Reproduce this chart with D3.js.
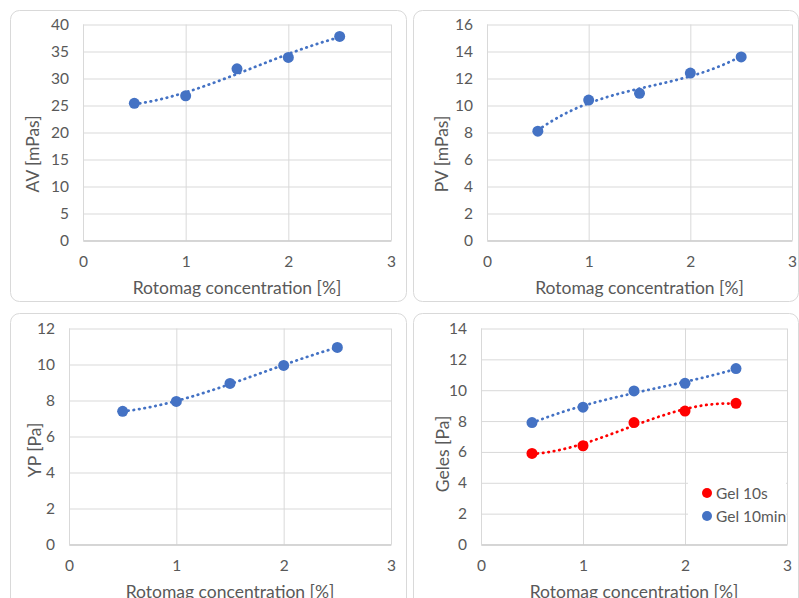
<!DOCTYPE html>
<html>
<head>
<meta charset="utf-8">
<script src="https://cdn.jsdelivr.net/npm/d3@7"></script>
<style>
  body { margin: 0; background: #fff; }
  text { font-family: Lato, "Open Sans", sans-serif; fill: #595959; }
</style>
</head>
<body>
<div id="chart"></div>
<script>
'use strict';

// data
const concentration = [0.5, 1, 1.5, 2, 2.5];
const av = [25.4, 26.8, 31.8, 33.9, 37.8];
const pv = [8.1, 10.4, 10.9, 12.4, 13.6];
const yp = [7.4, 7.95, 8.95, 9.95, 10.95];
const gel10s = [5.9, 6.4, 7.9, 8.65, 9.15];
const gel10min = [7.9, 8.9, 9.95, 10.45, 11.4];
const xTicks = [0, 1, 2, 3];
const xTitle = "Rotomag concentration [%]";

const blue = "#4472C4",
    red = "#FF0000";

const width = 799,
    height = 598;

// one entry per small chart
const panels = [
    {frame: [10, 10, 396, 291], plot: {left: 83, right: 391, top: 24.5, bottom: 240.5},
     yMax: 40, yStep: 5, yTitle: "AV [mPas]", yTitlePos: [33, 154],
     series: [{name: "AV", values: av, color: blue}]},
    {frame: [413, 10, 385, 291], plot: {left: 487, right: 792, top: 24.5, bottom: 240.5},
     yMax: 16, yStep: 2, yTitle: "PV [mPas]", yTitlePos: [442, 154],
     series: [{name: "PV", values: pv, color: blue}]},
    {frame: [10, 313, 396, 300], plot: {left: 69, right: 391, top: 328.5, bottom: 544.5},
     yMax: 12, yStep: 2, yTitle: "YP [Pa]", yTitlePos: [35, 450],
     series: [{name: "YP", values: yp, color: blue}]},
    {frame: [413, 313, 385, 300], plot: {left: 481, right: 787, top: 328.5, bottom: 544.5},
     yMax: 14, yStep: 2, yTitle: "Geles [Pa]", yTitlePos: [443, 454],
     series: [{name: "Gel 10s", values: gel10s, color: red},
              {name: "Gel 10min", values: gel10min, color: blue}],
     legend: true}
];

// least squares polynomial (Excel style trendline)
function polyFit(xs, ys, order) {
    const n = order + 1;
    const A = [];
    for (let i = 0; i < n; i++) {
        A.push([]);
        for (let j = 0; j < n; j++) A[i].push(d3.sum(xs, x => Math.pow(x, i + j)));
        A[i].push(d3.sum(xs, (x, k) => ys[k] * Math.pow(x, i)));
    }
    for (let c = 0; c < n; c++) {
        let p = c;
        for (let r = c + 1; r < n; r++) if (Math.abs(A[r][c]) > Math.abs(A[p][c])) p = r;
        [A[c], A[p]] = [A[p], A[c]];
        for (let r = 0; r < n; r++) {
            if (r === c) continue;
            const f = A[r][c] / A[c][c];
            for (let k = c; k <= n; k++) A[r][k] -= f * A[c][k];
        }
    }
    const coef = A.map((row, i) => row[n] / row[i]);
    return x => d3.sum(coef, (a, i) => a * Math.pow(x, i));
}

const svg = d3.select("#chart")
    .append("svg")
    .attr("width", width)
    .attr("height", height);

panels.forEach(p => {
    const g = svg.append("g");

    g.append("rect")
        .attr("x", p.frame[0] + 0.5)
        .attr("y", p.frame[1] + 0.5)
        .attr("width", p.frame[2])
        .attr("height", p.frame[3])
        .attr("rx", 9)
        .attr("fill", "#fff")
        .attr("stroke", "#d9d9d9");

    const xScale = d3.scaleLinear()
        .domain([0, 3])
        .range([p.plot.left, p.plot.right]);
    const yScale = d3.scaleLinear()
        .domain([0, p.yMax])
        .range([p.plot.bottom, p.plot.top]);
    const yTicks = d3.range(0, p.yMax + 0.001, p.yStep);

    // gridlines
    g.append("g")
        .attr("transform", `translate(0, ${p.plot.bottom})`)
        .call(d3.axisBottom(xScale).tickValues(xTicks).tickSize(-(p.plot.bottom - p.plot.top)).tickFormat(""))
        .call(a => a.select(".domain").remove())
        .call(a => a.selectAll("line").attr("stroke", "#d9d9d9"));
    g.append("g")
        .attr("transform", `translate(${p.plot.left}, 0)`)
        .call(d3.axisLeft(yScale).tickValues(yTicks).tickSize(-(p.plot.right - p.plot.left)).tickFormat(""))
        .call(a => a.select(".domain").remove())
        .call(a => a.selectAll("line").attr("stroke", "#d9d9d9"));

    // tick labels
    g.append("g")
        .attr("transform", `translate(0, ${p.plot.bottom})`)
        .call(d3.axisBottom(xScale).tickValues(xTicks).tickFormat(d3.format("d")).tickSize(0).tickPadding(15))
        .call(a => a.select(".domain").attr("stroke", "#bfbfbf"))
        .call(a => a.selectAll("text").attr("font-size", 15.5).attr("font-family", null));
    g.append("g")
        .attr("transform", `translate(${p.plot.left}, 0)`)
        .call(d3.axisLeft(yScale).tickValues(yTicks).tickSize(0).tickPadding(14))
        .call(a => a.select(".domain").remove())
        .call(a => a.selectAll("text").attr("font-size", 15.5).attr("font-family", null));

    g.append("text")
        .attr("x", (p.plot.left + p.plot.right) / 2)
        .attr("y", p.plot.bottom + 53)
        .attr("text-anchor", "middle")
        .attr("font-size", 17.5)
        .text(xTitle);

    g.append("text")
        .attr("transform", `translate(${p.yTitlePos[0] + 6}, ${p.yTitlePos[1]}) rotate(-90)`)
        .attr("text-anchor", "middle")
        .attr("font-size", 17.5)
        .text(p.yTitle);

    p.series.forEach(s => {
        const fit = polyFit(concentration, s.values, 3);
        const xs = d3.range(0.5, 2.5001, 0.02);
        const line = d3.line()
            .x(d => xScale(d))
            .y(d => yScale(fit(d)));
        g.append("path")
            .datum(xs)
            .attr("d", line)
            .attr("fill", "none")
            .attr("stroke", s.color)
            .attr("stroke-width", 2.75)
            .attr("stroke-linecap", "round")
            .attr("stroke-dasharray", "0.5 5");

        g.selectAll(null)
            .data(s.values)
            .join("circle")
            .attr("cx", (d, i) => xScale(concentration[i]))
            .attr("cy", d => yScale(d))
            .attr("r", 5.5)
            .attr("fill", s.color);
    });

    if (p.legend) {
        const lg = g.append("g");
        lg.append("rect")
            .attr("x", 688)
            .attr("y", 480)
            .attr("width", 98)
            .attr("height", 47)
            .attr("fill", "#fff");
        p.series.forEach((s, i) => {
            lg.append("circle")
                .attr("cx", 707)
                .attr("cy", 493 + i * 23)
                .attr("r", 5)
                .attr("fill", s.color);
            lg.append("text")
                .attr("x", 716)
                .attr("y", 493 + i * 23 + 5.5)
                .attr("font-size", 15.5)
                .text(s.name);
        });
    }
});
</script>
</body>
</html>
